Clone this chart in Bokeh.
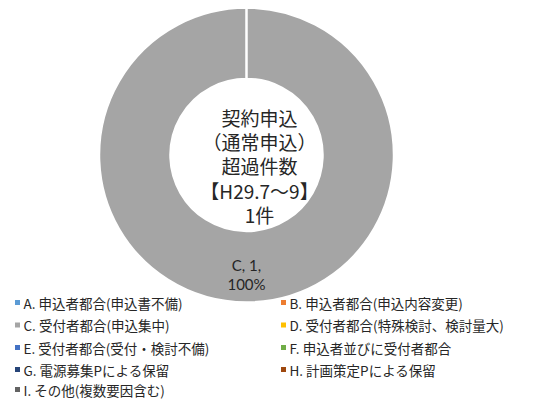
import numpy as np
from bokeh.plotting import figure
from bokeh.models import Range1d, ColumnDataSource
from bokeh.core.properties import value
from bokeh.embed import file_html
from bokeh.resources import INLINE

# ---- data ----
categories = ["A. 申込者都合(申込書不備)", "B. 申込者都合(申込内容変更)",
              "C. 受付者都合(申込集中)", "D. 受付者都合(特殊検討、検討量大)",
              "E. 受付者都合(受付・検討不備)", "F. 申込者並びに受付者都合",
              "G. 電源募集Pによる保留", "H. 計画策定Pによる保留",
              "I. その他(複数要因含む)"]
short_names = ["A", "B", "C", "D", "E", "F", "G", "H", "I"]
counts = [0, 0, 1, 0, 0, 0, 0, 0, 0]
colors = ["#5B9BD5", "#ED7D31", "#A5A5A5", "#FFC000", "#4472C4",
          "#70AD47", "#264478", "#9E480E", "#636363"]
center_lines = ["契約申込", "（通常申込）", "超過件数", "【H29.7～9】", "1件"]

W, H = 530, 400


def X(sx):
    return sx


def Y(sy):
    return H - sy


p = figure(width=W, height=H, output_backend="svg", toolbar_location=None,
           x_range=Range1d(0, W), y_range=Range1d(0, H), min_border=0,
           outline_line_color=None, background_fill_color="white")
p.axis.visible = False
p.grid.visible = False

cx, cy = X(246), Y(154.5)
r_out, r_in = 147.5, 76

total = float(sum(counts))
fr = np.array(counts) / total
ends_cum = np.cumsum(fr)
starts_cum = ends_cum - fr
start_a, end_a, cols, labs, lx, ly = [], [], [], [], [], []
for i, f in enumerate(fr):
    if f <= 0:
        continue
    a0 = np.pi / 2 - 2 * np.pi * starts_cum[i]
    a1 = np.pi / 2 - 2 * np.pi * ends_cum[i] + (1e-4 if f >= 1 else 0)
    start_a.append(a0)
    end_a.append(a1)
    cols.append(colors[i])
    mid = (a0 + a1) / 2 if f < 1 else np.pi / 2 - np.pi
    rm = (r_out + r_in) / 2
    lx.append(cx + rm * np.cos(mid))
    ly.append(cy + rm * np.sin(mid))
    labs.append((short_names[i], counts[i], f))

src = ColumnDataSource(dict(x=[cx] * len(cols), y=[cy] * len(cols),
                            s=start_a, e=end_a, c=cols))
p.annular_wedge(x="x", y="y", inner_radius=r_in, outer_radius=r_out,
                start_angle="s", end_angle="e", direction="clock",
                fill_color="c", line_color="white", line_width=2.5,
                source=src, inner_radius_units="screen",
                outer_radius_units="screen")

# data labels
for (nm, cnt, f), x0, y0 in zip(labs, lx, ly):
    p.text(x=[x0], y=[y0 + 2], text=[f"{nm}, {cnt},"], text_align="center",
           text_baseline="middle", text_font=value("Lato"),
           text_font_size="15px", text_color="#262626")
    p.text(x=[x0], y=[y0 - 17], text=[f"{f*100:.0f}%"], text_align="center",
           text_baseline="middle", text_font=value("Lato"),
           text_font_size="15px", text_color="#262626")

# center text
line_y = [117, 141, 165, 189.5, 214]
p.text(x=[X(259)] * len(center_lines), y=[Y(v) for v in line_y],
       text=center_lines, text_align="center", text_baseline="middle",
       text_font=value("Noto Sans CJK JP"), text_font_size="19px",
       text_color="#262626")

# legend
row_y = [302, 324.5, 347, 369, 389]
col_x = [17, 283]
for i, name in enumerate(categories):
    r, c = divmod(i, 2)
    mx = X(col_x[c])
    my = Y(row_y[r])
    p.scatter(x=[mx], y=[my], marker="square", size=5, fill_color=colors[i],
              line_color=None)
    p.text(x=[mx + 6], y=[my], text=[name], text_align="left",
           text_baseline="middle", text_font=value("Noto Sans CJK JP"),
           text_font_size="13.5px", text_color="#262626")

open("out.html", "w").write(file_html(p, INLINE))
